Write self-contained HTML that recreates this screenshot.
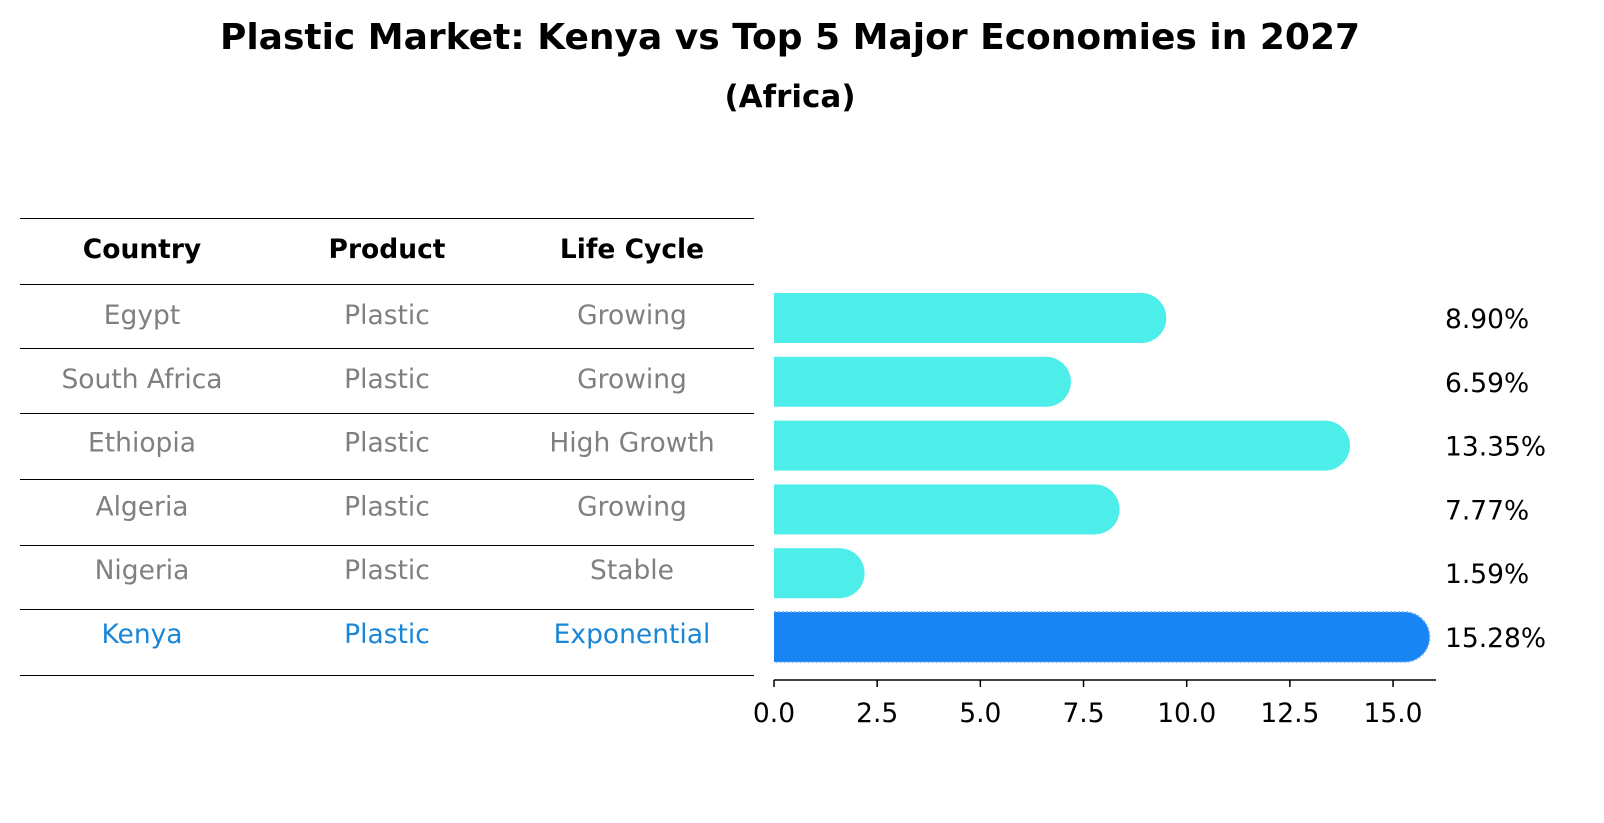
<!DOCTYPE html>
<html><head><meta charset="utf-8"><style>
body{margin:0;background:#fff}
svg{display:block;font-family:"DejaVu Sans","Liberation Sans",sans-serif}
</style></head><body>
<svg id="chart" width="1604" height="823" viewBox="0 0 1604 823">
<text x="790" y="49" text-anchor="middle" font-size="36" font-weight="bold">Plastic Market: Kenya vs Top 5 Major Economies in 2027</text>
<text x="790" y="107" text-anchor="middle" font-size="31" font-weight="bold">(Africa)</text>
<g id="table"></g>
<g id="bars"></g>
</svg>
<script>
const countries=["Egypt","South Africa","Ethiopia","Algeria","Nigeria","Kenya"];
const products=["Plastic","Plastic","Plastic","Plastic","Plastic","Plastic"];
const lifeCycles=["Growing","Growing","High Growth","Growing","Stable","Exponential"];
const values=[8.90,6.59,13.35,7.77,1.59,15.28];
const ticks=[0,2.5,5,7.5,10,12.5,15];
const ns="http://www.w3.org/2000/svg";
function mk(tag,attrs,parent){const e=document.createElementNS(ns,tag);for(const k in attrs)e.setAttribute(k,attrs[k]);parent.appendChild(e);return e;}
const x0=774,ppu=41.27,axMax=1436;
const xs=v=>x0+v*ppu;
const rowY=i=>318+i*63.8;
const table=document.getElementById('table');
const bars=document.getElementById('bars');
const lineYs=[218,284,348,413,479,545,609,675];
lineYs.forEach(y=>{const l=mk('line',{x1:20,x2:754,y1:y+0.5,y2:y+0.5,stroke:'#000','stroke-width':1,'shape-rendering':'crispEdges'},table);

});
const colX=[142,387,632];
["Country","Product","Life Cycle"].forEach((h,j)=>{const t=mk('text',{x:colX[j],y:258,'text-anchor':'middle','font-size':26.5,'font-weight':'bold'},table);t.textContent=h;

});
countries.forEach((c,i)=>{
 const y=rowY(i)+6;const col=c==="Kenya"?"#1a86d8":"#808080";
 [c,products[i],lifeCycles[i]].forEach((s,j)=>{const t=mk('text',{x:colX[j],y:y,'text-anchor':'middle','font-size':26.5,fill:col},table);t.textContent=s;
 
 });
 const v=values[i];const fill=c==="Kenya"?"#1985F5":"#4DEEEA";
 const g=mk('g',{},bars);
 
 
 const cy=rowY(i);
 mk('rect',{x:x0,y:cy-25,width:xs(v)-x0,height:50,fill:fill},g);
 mk('circle',{cx:xs(v),cy:cy,r:25,fill:fill},g);
 if(c==="Kenya"){mk('path',{d:`M${x0} ${cy-25} H${xs(v)} A25 25 0 0 1 ${xs(v)} ${cy+25} H${x0}`,fill:'none',stroke:'#5aa9f7','stroke-width':1.5,'stroke-dasharray':'2 2'},g);}
 const t=mk('text',{x:1445,y:cy+10,'font-size':26.5},bars);t.textContent=v.toFixed(2)+"%";
 
 
});
const ax=mk('line',{x1:x0,x2:axMax,y1:680,y2:680,stroke:'#000','stroke-width':1.5},bars);


ticks.forEach(tv=>{mk('line',{x1:xs(tv),x2:xs(tv),y1:680,y2:687,stroke:'#000','stroke-width':1.5},bars);
 const t=mk('text',{x:xs(tv),y:722,'text-anchor':'middle','font-size':26.5},bars);t.textContent=tv.toFixed(1);
 
 });
</script>
</body></html>
